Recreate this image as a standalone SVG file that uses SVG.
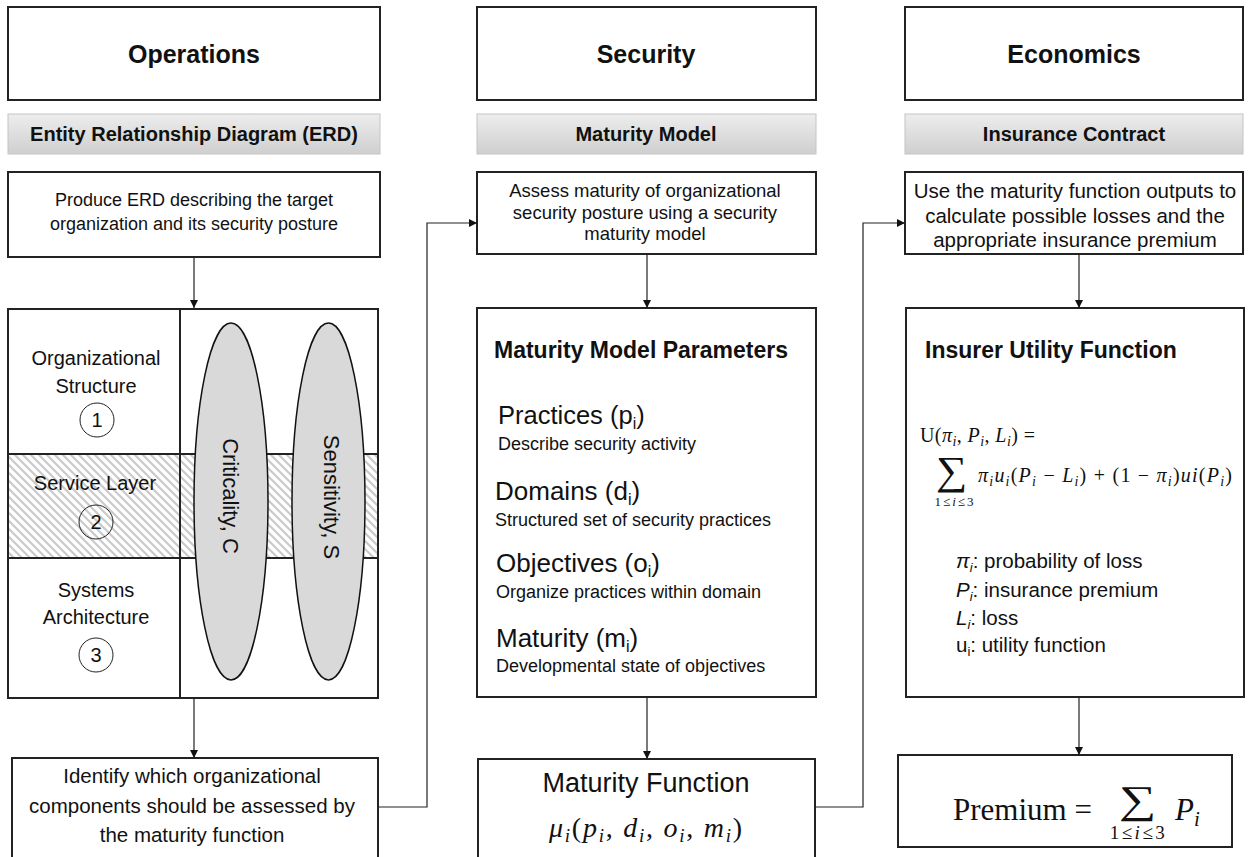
<svg xmlns="http://www.w3.org/2000/svg" width="1250" height="857" viewBox="0 0 1250 857">
<defs>
<linearGradient id="barGrad" x1="0" y1="0" x2="0" y2="1">
<stop offset="0" stop-color="#ededed"/><stop offset="1" stop-color="#cfcfcf"/>
</linearGradient>
<pattern id="hatch" patternUnits="userSpaceOnUse" width="8" height="8">
<rect width="8" height="8" fill="#fff"/>
<path d="M-2,-2 L10,10 M-2,6 L2,10 M6,-2 L10,2" stroke="#cacaca" stroke-width="2.2"/>
</pattern>
<marker id="arrow" viewBox="0 0 10 10" refX="10" refY="5" markerWidth="8" markerHeight="8" markerUnits="userSpaceOnUse" orient="auto">
<path d="M0,0 L10,5 L0,10 z" fill="#111"/>
</marker>
</defs>
<style>
.box{fill:#fff;stroke:#222;stroke-width:2}
.bar{fill:url(#barGrad);stroke:#c4c4c4;stroke-width:1}
.sans{font-family:"Liberation Sans",Arial,sans-serif;fill:#111}
.title{font-size:25px;font-weight:bold;text-anchor:middle}
.bartxt{font-size:20px;font-weight:bold;text-anchor:middle}
.mid{text-anchor:middle}
.bold{font-weight:bold}
.serif{font-family:"Liberation Serif","Times New Roman",serif;fill:#111}
.it{font-style:italic}
.ell{fill:#d9d9d9;stroke:#111;stroke-width:1.5}
.num{fill:none;stroke:#222;stroke-width:1}
.grid{fill:none;stroke:#222;stroke-width:2}
.conn{fill:none;stroke:#222;stroke-width:1.2;marker-end:url(#arrow)}
</style>
<rect width="1250" height="857" fill="#fff"/>

<g id="ops-title"><rect class="box" x="8" y="7" width="372" height="93"/><text class="sans title" x="194" y="63">Operations</text></g>
<g id="sec-title"><rect class="box" x="477" y="7" width="339" height="93"/><text class="sans title" x="646" y="63">Security</text></g>
<g id="eco-title"><rect class="box" x="905" y="7" width="338" height="93"/><text class="sans title" x="1074" y="63">Economics</text></g>

<g id="erd-bar"><rect class="bar" x="8" y="114" width="372" height="40"/><text class="sans bartxt" x="194" y="141">Entity Relationship Diagram (ERD)</text></g>
<g id="mm-bar"><rect class="bar" x="477" y="114" width="339" height="40"/><text class="sans bartxt" x="646" y="141">Maturity Model</text></g>
<g id="ic-bar"><rect class="bar" x="905" y="114" width="338" height="40"/><text class="sans bartxt" x="1074" y="141">Insurance Contract</text></g>

<g id="produce-erd"><rect class="box" x="8" y="172" width="372" height="85"/>
<text class="sans mid" x="194" y="206" font-size="18">Produce ERD describing the target</text>
<text class="sans mid" x="194" y="230" font-size="18">organization and its security posture</text></g>

<g id="assess"><rect class="box" x="477" y="172" width="339" height="82"/>
<text class="sans mid" x="645" y="197" font-size="18.5">Assess maturity of organizational</text>
<text class="sans mid" x="645" y="218.5" font-size="18.5">security posture using a security</text>
<text class="sans mid" x="645" y="240" font-size="18.5">maturity model</text></g>

<g id="use-outputs"><rect class="box" x="905" y="172" width="338" height="82"/>
<text class="sans mid" x="1075" y="198" font-size="20.5">Use the maturity function outputs to</text>
<text class="sans mid" x="1075" y="222.5" font-size="20.5">calculate possible losses and the</text>
<text class="sans mid" x="1075" y="247" font-size="20.5">appropriate insurance premium</text></g>

<g id="erd-grid">
<rect x="8" y="454" width="370" height="104" fill="url(#hatch)"/>
<rect class="grid" x="8" y="309" width="370" height="389"/>
<line class="grid" x1="180" y1="309" x2="180" y2="698"/>
<line class="grid" x1="8" y1="454" x2="378" y2="454"/>
<line class="grid" x1="8" y1="558" x2="378" y2="558"/>
<text class="sans mid" x="96" y="365" font-size="20">Organizational</text>
<text class="sans mid" x="96" y="393" font-size="20">Structure</text>
<circle class="num" cx="97" cy="420" r="17"/><text class="sans mid" x="97" y="427" font-size="20" fill="#333">1</text>
<text class="sans mid" x="95" y="490" font-size="20">Service Layer</text>
<circle class="num" cx="96" cy="522" r="17"/><text class="sans mid" x="96" y="529" font-size="20" fill="#333">2</text>
<text class="sans mid" x="96" y="597" font-size="20">Systems</text>
<text class="sans mid" x="96" y="624" font-size="20">Architecture</text>
<circle class="num" cx="96" cy="655" r="17"/><text class="sans mid" x="96" y="662" font-size="20" fill="#333">3</text>
</g>
<g id="criticality"><ellipse class="ell" cx="231" cy="501.5" rx="37" ry="178.5"/>
<text class="sans mid" font-size="22" transform="translate(230,496) rotate(90)" x="0" y="7.5">Criticality, C</text></g>
<g id="sensitivity"><ellipse class="ell" cx="328.5" cy="501.5" rx="36.5" ry="178.5"/>
<text class="sans mid" font-size="22" transform="translate(331,497) rotate(90)" x="0" y="7.5">Sensitivity, S</text></g>

<g id="params"><rect class="box" x="477" y="308" width="339" height="389"/>
<text class="sans bold" x="494" y="358" font-size="23">Maturity Model Parameters</text>
<text class="sans" x="498" y="424" font-size="25.5">Practices (p<tspan font-size="16" dy="5">i</tspan><tspan dy="-5">)</tspan></text>
<text class="sans" x="498" y="450" font-size="18">Describe security activity</text>
<text class="sans" x="495" y="500" font-size="26">Domains (d<tspan font-size="16" dy="5">i</tspan><tspan dy="-5">)</tspan></text>
<text class="sans" x="495" y="526" font-size="18">Structured set of security practices</text>
<text class="sans" x="496" y="572" font-size="26">Objectives (o<tspan font-size="16" dy="5">i</tspan><tspan dy="-5">)</tspan></text>
<text class="sans" x="496" y="598" font-size="18">Organize practices within domain</text>
<text class="sans" x="496" y="647" font-size="26">Maturity (m<tspan font-size="16" dy="5">i</tspan><tspan dy="-5">)</tspan></text>
<text class="sans" x="496" y="672" font-size="18">Developmental state of objectives</text></g>

<g id="utility"><rect class="box" x="906" y="308" width="338" height="389"/>
<text class="sans bold" x="925" y="358" font-size="23">Insurer Utility Function</text>
<text class="serif" x="920" y="442" font-size="20" textLength="115" lengthAdjust="spacing">U(<tspan class="it">π</tspan><tspan class="it" font-size="14" dy="4">i</tspan><tspan dy="-4">, </tspan><tspan class="it">P</tspan><tspan class="it" font-size="14" dy="4">i</tspan><tspan dy="-4">, </tspan><tspan class="it">L</tspan><tspan class="it" font-size="14" dy="4">i</tspan><tspan dy="-4">) =</tspan></text>
<text class="serif mid" font-size="40" transform="translate(951.5,484) scale(1.1,1)" x="0" y="0">∑</text>
<text class="serif mid" x="955" y="506" font-size="13" letter-spacing="2">1≤<tspan class="it">i</tspan>≤3</text>
<text class="serif" x="978" y="482" font-size="20" textLength="254" lengthAdjust="spacing"><tspan class="it">π</tspan><tspan class="it" font-size="14" dy="4">i</tspan><tspan class="it" dy="-4">u</tspan><tspan class="it" font-size="14" dy="4">i</tspan><tspan dy="-4">(</tspan><tspan class="it">P</tspan><tspan class="it" font-size="14" dy="4">i</tspan><tspan dy="-4"> − </tspan><tspan class="it">L</tspan><tspan class="it" font-size="14" dy="4">i</tspan><tspan dy="-4">) +  (1 − </tspan><tspan class="it">π</tspan><tspan class="it" font-size="14" dy="4">i</tspan><tspan dy="-4">)</tspan><tspan class="it">ui</tspan><tspan>(</tspan><tspan class="it">P</tspan><tspan class="it" font-size="14" dy="4">i</tspan><tspan dy="-4">)</tspan></text>
<text class="sans" x="956" y="568" font-size="20.5"><tspan class="it">π</tspan><tspan class="it" font-size="13" dy="4">i</tspan><tspan dy="-4">: probability of loss</tspan></text>
<text class="sans" x="956" y="597" font-size="20.5"><tspan class="it">P</tspan><tspan class="it" font-size="13" dy="4">i</tspan><tspan dy="-4">: insurance premium</tspan></text>
<text class="sans" x="956" y="625" font-size="20.5"><tspan class="it">L</tspan><tspan class="it" font-size="13" dy="4">i</tspan><tspan dy="-4">: loss</tspan></text>
<text class="sans" x="956" y="652" font-size="20.5">u<tspan font-size="13" dy="4">i</tspan><tspan dy="-4">: utility function</tspan></text></g>

<g id="identify"><rect class="box" x="12" y="758" width="366" height="110"/>
<text class="sans mid" x="192" y="783" font-size="20.5">Identify which organizational</text>
<text class="sans mid" x="192" y="813" font-size="20.5">components should be assessed by</text>
<text class="sans mid" x="192" y="842" font-size="20.5">the maturity function</text></g>

<g id="maturity-function"><rect class="box" x="478" y="759" width="337" height="110"/>
<text class="sans mid" x="646" y="792" font-size="27">Maturity Function</text>
<text class="serif" x="549" y="837" font-size="28" textLength="193" lengthAdjust="spacing"><tspan class="it">μ</tspan><tspan class="it" font-size="19" dy="5">i</tspan><tspan dy="-5">(</tspan><tspan class="it">p</tspan><tspan class="it" font-size="19" dy="5">i</tspan><tspan dy="-5">, </tspan><tspan class="it">d</tspan><tspan class="it" font-size="19" dy="5">i</tspan><tspan dy="-5">, </tspan><tspan class="it">o</tspan><tspan class="it" font-size="19" dy="5">i</tspan><tspan dy="-5">, </tspan><tspan class="it">m</tspan><tspan class="it" font-size="19" dy="5">i</tspan><tspan dy="-5">)</tspan></text></g>

<g id="premium"><rect class="box" x="898" y="755" width="334" height="92"/>
<text class="serif" x="953" y="820" font-size="31">Premium =</text>
<text class="serif mid" font-size="39" transform="translate(1137.5,813) scale(1.35,1)" x="0" y="0">∑</text>
<text class="serif mid" x="1138.5" y="839" font-size="19" letter-spacing="2.5">1≤<tspan class="it">i</tspan>≤3</text>
<text class="serif" x="1175" y="820" font-size="31"><tspan class="it">P</tspan><tspan class="it" font-size="21" dy="6">i</tspan></text></g>

<g id="connectors">
<path class="conn" d="M194,257 V308"/>
<path class="conn" d="M194,698 V758"/>
<path class="conn" d="M378,807 H427 V223 H477"/>
<path class="conn" d="M647,254 V308"/>
<path class="conn" d="M647,697 V759"/>
<path class="conn" d="M815,807 H863 V223 H905"/>
<path class="conn" d="M1079,254 V308"/>
<path class="conn" d="M1079,697 V755"/>
</g>
</svg>
